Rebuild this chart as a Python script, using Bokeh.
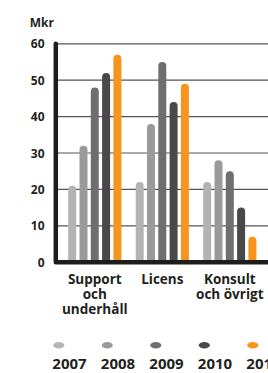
from bokeh.plotting import figure
from bokeh.models import Range1d
from bokeh.core.properties import value
from bokeh.embed import file_html
from bokeh.resources import INLINE

# ---- data ----
categories = ["Support\noch\nunderhåll", "Licens", "Konsult\noch övrigt"]
years = ["2007", "2008", "2009", "2010", "2011"]
v2007 = [21, 22, 22]
v2008 = [32, 38, 28]
v2009 = [48, 55, 25]
v2010 = [52, 44, 15]
v2011 = [57, 49, 7]
series = [v2007, v2008, v2009, v2010, v2011]
yticks = [0, 10, 20, 30, 40, 50, 60]
unit_label = "Mkr"

# ---- style / layout ----
colors = ["#b3b3b3", "#9a9a9a", "#6e6e6e", "#4a484a", "#f7941d"]
TEXT = "#231f20"
FONT = value("Open Sans")
W, H = 268, 373
Y0_PX = 261.7          # canvas y of value 0
PX_PER = 3.64          # px per data unit
AXIS_X = 55.3          # canvas x of the value axis
GROUP0 = 94.3
GROUP_STEP = 67.5
BAR_STEP = 11.3
BAR_W = 8


def ydata(px):
    return (Y0_PX - px) / PX_PER


p = figure(width=W, height=H, x_range=Range1d(0, W),
           y_range=Range1d(ydata(H), ydata(0)),
           output_backend="svg", toolbar_location=None,
           x_axis_type=None, y_axis_type=None, min_border=0,
           outline_line_color=None, background_fill_color="white",
           border_fill_color="white")
p.grid.visible = False

# grid lines
grid_vals = [t for t in yticks if t > 0]
p.segment(x0=[AXIS_X] * len(grid_vals), x1=[W + 5] * len(grid_vals),
          y0=grid_vals, y1=grid_vals, line_color="#555555", line_width=1.2)

# bars
for j, (vals, c) in enumerate(zip(series, colors)):
    xs = [GROUP0 + GROUP_STEP * g + BAR_STEP * (j - 2) for g in range(len(categories))]
    p.vbar(x=xs, top=vals, bottom=0, width=BAR_W, fill_color=c,
           line_color=None, border_radius=(4, 4, 0, 0))

# axes (L shape)
p.line(x=[AXIS_X, AXIS_X, W + 5], y=[yticks[-1], 0, 0], line_color="#1d1d1b",
       line_width=4.5, line_join="round", line_cap="round")

# tick labels (vertically centred on their grid line)
p.text(x=[AXIS_X - 11.3] * len(yticks), y=yticks,
       text=[str(t) for t in yticks], text_align="right", text_baseline="middle",
       text_font=FONT, text_font_style="bold", text_font_size="12px", text_color=TEXT)

# unit label
p.text(x=[29.3], y=[ydata(22)], text=[unit_label], text_align="left",
       text_baseline="middle", text_font=FONT, text_font_style="bold",
       text_font_size="12px", text_color=TEXT)

# category labels
cx, cy, ct = [], [], []
for g, cat in enumerate(categories):
    for k, line in enumerate(cat.split("\n")):
        cx.append(GROUP0 + GROUP_STEP * g)
        cy.append(ydata(278.3 + 15.3 * k))
        ct.append(line)
p.text(x=cx, y=cy, text=ct, text_align="center", text_baseline="middle",
       text_font=FONT, text_font_style="bold", text_font_size="13.5px", text_color=TEXT)

# legend
lx = [58.3 + 48.5 * i for i in range(len(years))]
p.ellipse(x=lx, y=[ydata(344.8)] * len(years), width=11, height=6.5,
          width_units="screen", height_units="screen", fill_color=colors, line_color=None)
p.text(x=[v - 6.5 for v in lx], y=[ydata(363.2)] * len(years), text=years,
       text_align="left", text_baseline="middle", text_font=FONT,
       text_font_style="bold", text_font_size="15px", text_color=TEXT)

open("out.html", "w").write(file_html(p, INLINE))
